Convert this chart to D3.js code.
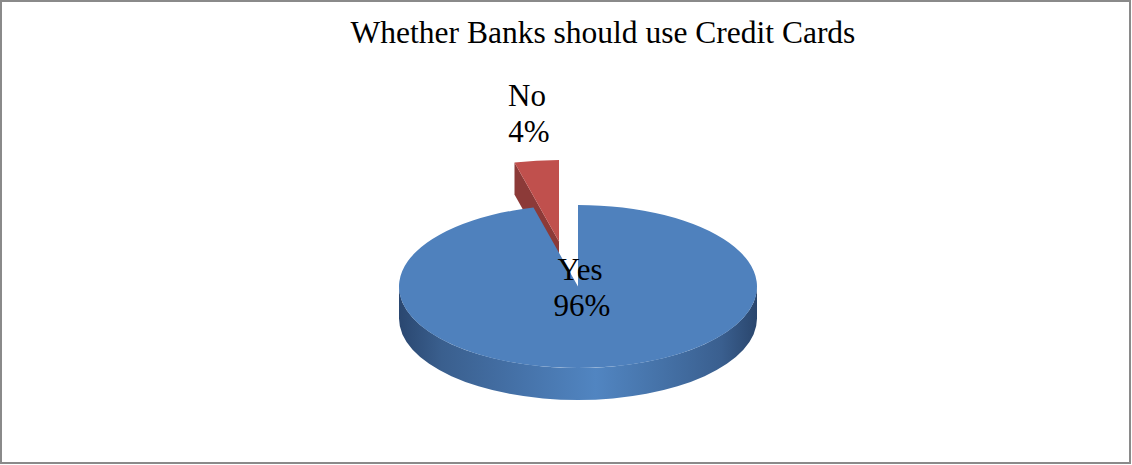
<!DOCTYPE html>
<html>
<head>
<meta charset="utf-8">
<script src="https://cdn.jsdelivr.net/npm/d3@7"></script>
<style>
  html, body { margin: 0; padding: 0; background: #fff; }
  svg { display: block; }
  text { font-family: "Liberation Serif", "Times New Roman", serif; fill: #000; }
</style>
</head>
<body>
<svg id="chart" width="1132" height="465"></svg>
<script>
// Survey answers (percent of respondents)
const categories = ["Yes", "No"];
const values = [96, 4];
const labels = ["96%", "4%"];
const title = "Whether Banks should use Credit Cards";

const W = 1132, H = 465;
const svg = d3.select("#chart");

// frame
svg.append("rect")
  .attr("x", 1).attr("y", 1)
  .attr("width", W - 3).attr("height", H - 3)
  .attr("fill", "#fff")
  .attr("stroke", "#8a8a8a")
  .attr("stroke-width", 2);

svg.append("text")
  .attr("x", 603).attr("y", 43)
  .attr("text-anchor", "middle")
  .style("font-size", "31.5px")
  .text(title);

// 3D pie geometry: elliptical top face plus extruded rim
const cx = 578, cy = 286.5, rx = 179, ry = 81.5, depth = 32;
const colors = { Yes: "#4F81BD", No: "#C0504D" };
const sideColors = { Yes: "url(#rimYes)", No: "#8C3A38" };
const explode = { Yes: [0, 0], No: [-19, -45] };

const pie = d3.pie().sort(null).value(d => d.value)
  .startAngle(0).endAngle(2 * Math.PI);
const arcs = pie(categories.map((c, i) => ({ cat: c, value: values[i], label: labels[i] })));

const pt = (a, ox, oy, dz = 0) => [cx + ox + rx * Math.sin(a), cy + oy - ry * Math.cos(a) + dz];

// gradient for the cylinder rim
const defs = svg.append("defs");
const grad = defs.append("linearGradient").attr("id", "rimYes")
  .attr("gradientUnits", "userSpaceOnUse")
  .attr("x1", cx - rx).attr("x2", cx + rx).attr("y1", 0).attr("y2", 0);
[[0, "#2a4770"], [0.12, "#3a5f8e"], [0.35, "#4673aa"], [0.55, "#5185c1"],
 [0.75, "#4470a5"], [0.9, "#3a5f8f"], [1, "#2a466d"]]
  .forEach(([o, c]) => grad.append("stop").attr("offset", o).attr("stop-color", c));

const g = svg.append("g");

function topPath(d, ox, oy) {
  const p0 = pt(d.startAngle, ox, oy), p1 = pt(d.endAngle, ox, oy);
  const large = d.endAngle - d.startAngle > Math.PI ? 1 : 0;
  return `M${cx + ox},${cy + oy}L${p0[0]},${p0[1]}A${rx},${ry} 0 ${large} 1 ${p1[0]},${p1[1]}Z`;
}

// outer rim visible only on the front half (angles PI/2 .. 3PI/2)
function rimPath(d, ox, oy) {
  const a0 = Math.max(d.startAngle, Math.PI / 2), a1 = Math.min(d.endAngle, 3 * Math.PI / 2);
  if (a1 <= a0) return null;
  const t0 = pt(a0, ox, oy), t1 = pt(a1, ox, oy);
  const b0 = pt(a0, ox, oy, depth), b1 = pt(a1, ox, oy, depth);
  return `M${t0[0]},${t0[1]}A${rx},${ry} 0 0 1 ${t1[0]},${t1[1]}` +
         `L${b1[0]},${b1[1]}A${rx},${ry} 0 0 0 ${b0[0]},${b0[1]}Z`;
}

// radial cut face along the leading edge of a slice
function cutPath(d, ox, oy) {
  const p = pt(d.startAngle, ox, oy);
  const c = [cx + ox, cy + oy];
  return `M${p[0]},${p[1]}L${c[0]},${c[1]}L${c[0]},${c[1] + depth}L${p[0]},${p[1] + depth}Z`;
}

// draw the exploded (rear) slice first, the front slice on top
const drawOrder = arcs.slice().sort((a, b) => explode[a.data.cat][1] - explode[b.data.cat][1]);

drawOrder.forEach(d => {
  const [ox, oy] = explode[d.data.cat];
  const sg = g.append("g").attr("class", "slice");
  if (d.data.cat !== "Yes") {
    sg.append("path").attr("d", cutPath(d, ox, oy)).attr("fill", sideColors[d.data.cat]);
  }
  const rp = rimPath(d, ox, oy);
  if (rp) sg.append("path").attr("d", rp).attr("fill", sideColors[d.data.cat]);
  sg.append("path").attr("d", topPath(d, ox, oy)).attr("fill", colors[d.data.cat]);
});

// data labels
const labelPos = { Yes: [580, 280], No: [527, 106] };
arcs.forEach(d => {
  const [x, y] = labelPos[d.data.cat];
  const t = svg.append("text")
    .attr("text-anchor", "middle")
    .style("font-size", "31px");
  t.append("tspan").attr("x", x).attr("y", y).text(d.data.cat);
  t.append("tspan").attr("x", x + 2).attr("y", y + 36).text(d.data.label);
});
</script>
</body>
</html>
